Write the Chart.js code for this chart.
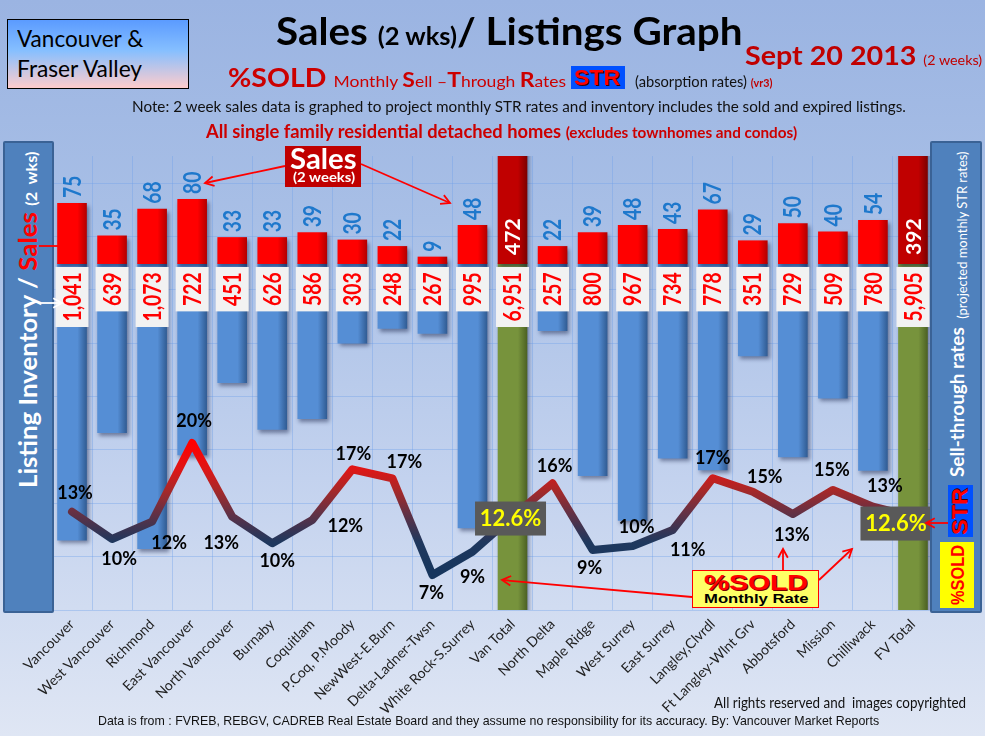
<!DOCTYPE html>
<html><head><meta charset="utf-8">
<script src="https://cdn.jsdelivr.net/npm/chart.js@4.4.1/dist/chart.umd.min.js"></script>
<style>
html,body{margin:0;padding:0}
body{width:985px;height:736px;position:relative;overflow:hidden;background:linear-gradient(180deg,#9bb4e2 0%,#a8bfe6 30%,#c3d2ee 65%,#dfe6f4 100%);font-family:Lato,sans-serif;color:#111}
.t{position:absolute;white-space:nowrap;line-height:1;transform-origin:0 0}
.r{color:#cc0000}
.lib{font-family:"Liberation Sans",Arial,sans-serif}
canvas{position:absolute;left:0;top:0}
.panel{position:absolute;box-sizing:border-box;background:#4f81bd;border:2px solid #3a6295;border-radius:2px}
.box{position:absolute;box-sizing:border-box}
svg{position:absolute;left:0;top:0}
</style></head><body>
<canvas id="c" width="985" height="736"></canvas>

<div class="panel" style="left:3px;top:141px;width:51px;height:472px"></div>
<div class="panel" style="left:930px;top:141px;width:52px;height:472px"></div>

<div class="box" style="left:7px;top:19px;width:182px;height:70px;border:1px solid #000;background:linear-gradient(180deg,#5b9bff 0%,#86bfff 45%,#ffcccc 100%)"></div>
<div class="t" data-w="126" style="left:17px;top:25.7px;font-size:24px;color:#000">Vancouver &amp;</div>
<div class="t" data-w="125" style="left:17px;top:55.7px;font-size:24px;color:#000">Fraser Valley</div>

<div class="t" data-w="467" style="left:276px;top:11.3px;font-size:38px;font-weight:700;color:#000">Sales <span style="font-size:24px">(2 wks)</span>/ Listings Graph</div>
<div class="t" data-w="237" style="left:745px;top:41.9px;font-size:26px;font-weight:700;color:#c00000">Sept 20 2013 <span style="font-size:13px;font-weight:400">(2 weeks)</span></div>

<div class="t r" data-w="338" style="left:228px;top:63.9px;font-size:26px"><b>%SOLD</b> <span style="font-size:16px">Monthly </span><b style="font-size:21px">S</b><span style="font-size:16px">ell –</span><b style="font-size:21px">T</b><span style="font-size:16px">hrough </span><b style="font-size:21px">R</b><span style="font-size:16px">ates</span></div>
<div class="box" style="left:571px;top:66px;width:54px;height:23px;background:#0050ff"></div>
<div class="t lib" data-w="46" style="left:574px;top:67.4px;font-size:22px;font-weight:700;color:#ff0000;text-shadow:1px 1px 0 #3a0000">STR</div>
<div class="t" data-w="137" style="left:635px;top:73.7px;font-size:15px">(absorption rates) <b style="font-size:11px;color:#c00000">(vr3)</b></div>

<div class="t" data-w="774" style="left:132px;top:98.7px;font-size:15px">Note: 2 week sales data is graphed to project monthly STR rates and inventory includes the sold and expired listings.</div>
<div class="t r" data-w="591" style="left:206px;top:122px;font-size:18px;font-weight:700">All single family residential detached homes <span style="font-size:15px">(excludes townhomes and condos)</span></div>

<div class="t" data-w="336" data-rot="1" style="left:15.7px;top:488px;font-size:24px;font-weight:700;color:#fff">Listing Inventory / <span style="color:#ff0000">Sales</span> <span style="font-size:15px">(2&nbsp; wks)</span></div>
<div class="t" data-w="325" data-rot="1" style="left:947px;top:477px;font-size:19px;font-weight:700;color:#fff">Sell-through rates <span style="font-size:13px;font-weight:400;position:relative;top:3px;margin-left:4px">(projected monthly STR rates)</span></div>
<div class="box" style="left:948px;top:485px;width:25px;height:52px;background:#0050ff"></div>
<div class="t lib" data-w="47" data-rot="1" style="left:949.4px;top:535px;font-size:22px;font-weight:700;color:#ff0000;text-shadow:1px 1px 0 #3a0000">STR</div>
<div class="box" style="left:940px;top:542px;width:34px;height:66px;background:#ffff00"></div>
<div class="t lib" data-w="60" data-rot="1" style="left:948.8px;top:605px;font-size:18px;font-weight:700;color:#ff0000">%SOLD</div>

<div class="box" style="left:285px;top:146px;width:76px;height:41px;background:#c00000"></div>
<div class="t" data-w="67" style="left:290px;top:143.5px;font-size:28px;font-weight:700;color:#fff">Sales</div>
<div class="t" data-w="62" style="left:293px;top:171.2px;font-size:13px;font-weight:700;color:#fff">(2 weeks)</div>

<div class="box" style="left:692px;top:570px;width:127px;height:38px;background:#ffff66;border:1.5px solid #ff0000"></div>
<div class="t lib" data-w="104" style="left:704px;top:572.1px;font-size:22px;font-weight:700;color:#ff0000;text-shadow:1px 1px 0 #7a0000">%SOLD</div>
<div class="t lib" data-w="104" style="left:704px;top:592.7px;font-size:12.5px;font-weight:700;color:#000">Monthly Rate</div>

<div class="t lib" data-w="781" style="left:98px;top:713.5px;font-size:13px;color:#111">Data is from : FVREB, REBGV, CADREB Real Estate Board and they assume no responsibility for its accuracy. By: Vancouver Market Reports</div>
<div class="t" data-w="252" style="left:714px;top:695px;font-size:15px;color:#111">All rights reserved and&nbsp; images copyrighted</div>

<svg id="arrows" width="985" height="736"></svg>

<script>
// ---------- data ----------
const categories = ['Vancouver','West Vancouver','Richmond','East Vancouver','North Vancouver','Burnaby','Coquitlam','P.Coq, P.Moody','NewWest-E.Burn','Delta-Ladner-Twsn','White Rock-S.Surrey','Van Total','North Delta','Maple Ridge','West Surrey','East Surrey','Langley,Clvrdl','Ft Langley-Wlnt Grv','Abbotsford','Mission','Chilliwack','FV Total'];
const sales = [75,35,68,80,33,33,39,30,22,9,48,472,22,39,48,43,67,29,50,40,54,392];
const listings = [1041,639,1073,722,451,626,586,303,248,267,995,6951,257,800,967,734,778,351,729,509,780,5905];
const strPct = [13.09,10.32,12.08,20.06,12.58,9.89,12.25,17.39,16.48,6.67,9.03,12.6,15.97,9.21,9.6,11.24,16.48,15.12,12.86,15.29,13.6,12.6];
const strLabels = ['13%','10%','12%','20%','13%','10%','12%','17%','17%','7%','9%','12.6%','16%','9%','10%','11%','17%','15%','13%','15%','13%','12.6%'];

// ---------- label placement (style) ----------
const labelOffsets = [[3,-19],[7,20],[17,21],[2,-22],[-11,26],[5,17],[33,6],[1,-16],[12,-17],[-1,18],[0,25],[-2,2],[2,-18],[-3,18],[4,-20],[15,20],[0,-21],[12,-15],[-1,21],[-1,-20],[12,-21],[-17,7]];

const isTotal = categories.map(c => /Total$/.test(c));
const GRID = 'rgba(110,160,235,0.38)';

function hGrad(ctx, base, dark){
  const ch = ctx.chart, xs = ch.scales && ch.scales.x;
  if (ctx.type !== 'data' || !xs) return base;
  const cx = xs.getPixelForValue(ctx.dataIndex);
  if (!isFinite(cx)) return base;
  const g = ch.ctx.createLinearGradient(cx-15,0,cx+15,0);
  g.addColorStop(0, base); g.addColorStop(0.68, base); g.addColorStop(1, dark);
  return g;
}
const salesFill = c => isTotal[c.dataIndex] ? hGrad(c,'#c00000','#7a0000') : hGrad(c,'#ff0000','#b00000');
const listFill = c => isTotal[c.dataIndex] ? hGrad(c,'#77933c','#4a5f22') : hGrad(c,'#558ed5','#2f5a91');
function lineGrad(c){
  const ch = c.chart, s = ch.scales && ch.scales.yPct;
  if (!s) return '#8a2a30';
  const y0 = s.getPixelForValue(20), y1 = s.getPixelForValue(7);
  if (!isFinite(y0) || !isFinite(y1) || y0 === y1) return '#8a2a30';
  const g = ch.ctx.createLinearGradient(0,y0,0,y1);
  g.addColorStop(0,'#ff0000'); g.addColorStop(0.208,'#dc1717'); g.addColorStop(0.362,'#a82828');
  g.addColorStop(0.523,'#6a3042'); g.addColorStop(0.662,'#3c3452'); g.addColorStop(0.769,'#1f385e'); g.addColorStop(1,'#17365d');
  return g;
}

function vtext(ctx, txt, cx, y, fs, color, sx){
  ctx.save(); ctx.translate(cx, y); ctx.rotate(-Math.PI/2); ctx.scale(sx,1);
  ctx.font = '700 ' + fs + 'px Lato'; ctx.fillStyle = color; ctx.textAlign = 'left'; ctx.textBaseline = 'alphabetic';
  ctx.fillText(txt, 0, 0.36*fs); ctx.restore();
}

const shadowPlugin = {
  id:'barShadow',
  beforeDatasetDraw(chart, args){
    if (chart.data.datasets[args.index].type !== 'bar') return;
    const ctx = chart.ctx; ctx.save();
    ctx.shadowColor = 'rgba(10,20,60,0.45)'; ctx.shadowBlur = 4; ctx.shadowOffsetX = 2; ctx.shadowOffsetY = 3;
  },
  afterDatasetDraw(chart, args){
    if (chart.data.datasets[args.index].type !== 'bar') return;
    chart.ctx.restore();
  }
};

const overlayPlugin = {
  id:'overlay',
  afterDatasetsDraw(chart){
    const ctx = chart.ctx, xs = chart.scales.x, yS = chart.scales.ySales, yP = chart.scales.yPct;
    const zeroS = yS.getPixelForValue(0);
    categories.forEach((c,i) => {
      const cx = xs.getPixelForValue(i);
      const txt = listings[i].toLocaleString('en-US');
      ctx.save(); ctx.font = '700 24px Lato';
      const tw = ctx.measureText(txt).width * 0.8; ctx.restore();
      const top = zeroS + 3, h = tw + 11;
      ctx.fillStyle = '#f2f2f2'; ctx.fillRect(cx-16.5, top, 33, h);
      vtext(ctx, txt, cx, top + h - 5.5, 24, '#ff0000', 0.8);
      if (isTotal[i]) vtext(ctx, String(sales[i]), cx, zeroS - 9, 21, '#ffffff', 1);
      else vtext(ctx, String(sales[i]), cx, yS.getPixelForValue(sales[i]) - 5, 24, '#1e78cc', 0.8);
    });
    strPct.forEach((p,i) => {
      const px = xs.getPixelForValue(i), py = yP.getPixelForValue(p);
      const lx = px + labelOffsets[i][0], ly = py + labelOffsets[i][1];
      ctx.save(); ctx.textAlign = 'center'; ctx.textBaseline = 'alphabetic';
      if (isTotal[i]) {
        ctx.fillStyle = '#595959'; ctx.fillRect(lx-35.5, ly-17, 71, 34);
        ctx.font = '700 22px Lato'; ctx.fillStyle = '#ffff00';
        ctx.fillText(strLabels[i], lx, ly + 0.36*22);
      } else {
        ctx.font = '700 18px Lato'; ctx.fillStyle = '#000';
        ctx.fillText(strLabels[i], lx, ly + 0.36*18);
      }
      ctx.restore();
    });
  }
};

function drawArrows(){
  const svg = document.getElementById('arrows'), NS = 'http://www.w3.org/2000/svg';
  function arrow(x1,y1,x2,y2,color,w){
    const l = document.createElementNS(NS,'line');
    l.setAttribute('x1',x1); l.setAttribute('y1',y1); l.setAttribute('x2',x2); l.setAttribute('y2',y2);
    l.setAttribute('stroke',color); l.setAttribute('stroke-width',w); svg.appendChild(l);
    const a = Math.atan2(y2-y1,x2-x1), L = 10, s = 0.5;
    const p = document.createElementNS(NS,'polyline');
    p.setAttribute('points', (x2-L*Math.cos(a-s))+','+(y2-L*Math.sin(a-s))+' '+x2+','+y2+' '+(x2-L*Math.cos(a+s))+','+(y2-L*Math.sin(a+s)));
    p.setAttribute('fill','none'); p.setAttribute('stroke',color); p.setAttribute('stroke-width',w); svg.appendChild(p);
  }
  arrow(285,166,205,183,'#ff0000',1.8);
  arrow(361,164,450,203,'#ff0000',1.8);
  arrow(692,597,502,580,'#ff0000',1.8);
  arrow(783,570,783,549,'#ff0000',1.8);
  arrow(819,580,852,549,'#ff0000',1.8);
  arrow(948,523,926,523,'#ff0000',1.8);
  arrow(39,246,67,246,'#ff0000',1.8);
  arrow(39,303,62,303,'#ffffff',1.8);
}

function fitTexts(){
  document.querySelectorAll('[data-w]').forEach(el => {
    const k = (+el.dataset.w) / el.offsetWidth;
    el.style.transform = (el.dataset.rot ? 'rotate(-90deg) ' : '') + 'scaleX(' + k + ')';
  });
}

function init(){
  fitTexts(); drawArrows();
  new Chart(document.getElementById('c'), {
    type:'bar',
    data:{
      labels: categories,
      datasets:[
        {type:'bar', label:'Listings', data:listings, yAxisID:'yList', grouped:false, order:3, backgroundColor:listFill, borderWidth:0, barPercentage:0.74, categoryPercentage:1},
        {type:'bar', label:'Sales', data:sales, yAxisID:'ySales', grouped:false, order:2, backgroundColor:salesFill, borderWidth:0, barPercentage:0.74, categoryPercentage:1},
        {type:'line', label:'STR', data:strPct, yAxisID:'yPct', order:1, borderColor:lineGrad, borderWidth:8, pointRadius:0, pointHoverRadius:0, tension:0, borderCapStyle:'round', borderJoinStyle:'round', fill:false}
      ]
    },
    options:{
      responsive:false, animation:false, events:[],
      layout:{padding:{left:52, right:52, top:156, bottom:0}},
      plugins:{legend:{display:false}, tooltip:{enabled:false}},
      scales:{
        x:{offset:true, grid:{offset:true, color:GRID, drawTicks:false}, border:{display:false},
           ticks:{autoSkip:false, maxRotation:45, minRotation:45, padding:6, color:'#222', font:{family:'Lato', size:14}},
           afterFit(s){ s.height = 126; }},
        yGrid:{position:'left', min:0, max:8.51, ticks:{display:false}, grid:{color:GRID, drawTicks:false}, border:{display:false},
           afterBuildTicks(s){ s.ticks = [0,1,2,3,4,5,6,7,8].map(v => ({value:v})); }, afterFit(s){ s.width = 0; }},
        ySales:{display:false, min:-425.6, max:132.8},
        yList:{display:false, reverse:true, min:-398.9, max:1301.5},
        yPct:{display:false, min:3.12, max:49.17}
      }
    },
    plugins:[shadowPlugin, overlayPlugin]
  });
}

const loads = document.fonts ? Promise.all([
  document.fonts.load('400 16px Lato'), document.fonts.load('700 16px Lato'),
  document.fonts.load('400 16px "Liberation Sans"'), document.fonts.load('700 16px "Liberation Sans"')
]) : Promise.resolve();
loads.then(init, init);
</script>
</body></html>
